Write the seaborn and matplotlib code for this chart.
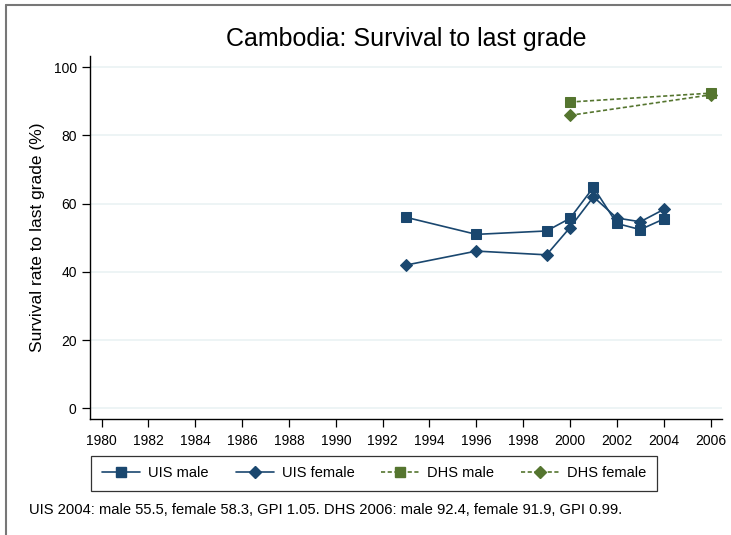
import pandas as pd
import seaborn as sns
import matplotlib.pyplot as plt
from matplotlib.lines import Line2D

# Data
uis_years = [1993, 1996, 1999, 2000, 2001, 2002, 2003, 2004]
uis_male = [56.0, 51.0, 52.0, 55.7, 64.8, 54.2, 52.4, 55.5]
uis_female = [42.0, 46.1, 45.0, 53.0, 62.0, 55.8, 54.7, 58.3]
dhs_years = [2000, 2006]
dhs_male = [89.8, 92.4]
dhs_female = [85.9, 91.9]
x_ticks = list(range(1980, 2007, 2))
y_ticks = [0, 20, 40, 60, 80, 100]

navy = "#1a476f"
green = "#55752f"

sns.set_style("white")
plt.rcParams['font.family'] = ['Liberation Sans', 'DejaVu Sans']
plt.rcParams['text.color'] = 'black'
plt.rcParams['axes.labelcolor'] = 'black'
plt.rcParams['xtick.color'] = 'black'
plt.rcParams['ytick.color'] = 'black'

fig = plt.figure(figsize=(7.31, 5.35), dpi=100)
ax = fig.add_axes([0.123, 0.217, 0.865, 0.679])

series = [
    (uis_years, uis_male, "UIS male", navy, "s", 7, "-"),
    (uis_years, uis_female, "UIS female", navy, "D", 6.5, "-"),
    (dhs_years, dhs_male, "DHS male", green, "s", 7, (0, (2.5, 1.5))),
    (dhs_years, dhs_female, "DHS female", green, "D", 6.5, (0, (2.5, 1.5))),
]
handles = []
for xs, ys, lab, col, mk, ms, ls in series:
    sns.lineplot(x=xs, y=ys, ax=ax, color=col, marker=mk, markersize=ms,
                 markeredgecolor=col, linewidth=1.2, linestyle=ls, legend=False)
    handles.append(Line2D([0], [0], color=col, marker=mk, markersize=ms,
                          markeredgecolor=col, linewidth=1.2, linestyle=ls, label=lab))

ax.set_xlim(1979.5, 2006.5)
ax.set_ylim(-3.1, 103.4)
ax.set_xticks(x_ticks)
ax.set_yticks(y_ticks)
ax.yaxis.grid(True, color="#eaf2f3", linewidth=1.2)
ax.set_axisbelow(True)
for s in ["top", "right"]:
    ax.spines[s].set_visible(False)
for s in ["left", "bottom"]:
    ax.spines[s].set_color("black")
    ax.spines[s].set_linewidth(1.0)
ax.tick_params(axis="both", direction="out", length=6, width=0.9, color="black",
               labelsize=10, labelcolor="black", left=True, bottom=True)
ax.tick_params(axis="x", pad=5)
ax.set_xlabel("")
ax.set_ylabel("Survival rate to last grade (%)", fontsize=12.5, labelpad=6, color="black")
ax.set_title("Cambodia: Survival to last grade", fontsize=18, pad=7, color="black")

leg = fig.legend(handles=handles, loc="center", bbox_to_anchor=(0.512, 0.115), ncol=4,
                 fontsize=10.5, frameon=True, fancybox=False, handlelength=2.6,
                 columnspacing=1.85, handletextpad=0.55, borderpad=0.75, borderaxespad=0)
leg.get_frame().set_edgecolor("black")
leg.get_frame().set_linewidth(0.9)

fig.text(0.039, 0.046, "UIS 2004: male 55.5, female 58.3, GPI 1.05. DHS 2006: male 92.4, female 91.9, GPI 0.99.",
         fontsize=10.6, va="center", ha="left", color="black")

# grey outer frame on top and left
fig.add_artist(Line2D([0.008, 1.0], [0.99, 0.99], color="#777777", linewidth=1.5))
fig.add_artist(Line2D([0.008, 0.008], [0.0, 0.99], color="#777777", linewidth=1.5))

fig.savefig("out.png", dpi=100)
